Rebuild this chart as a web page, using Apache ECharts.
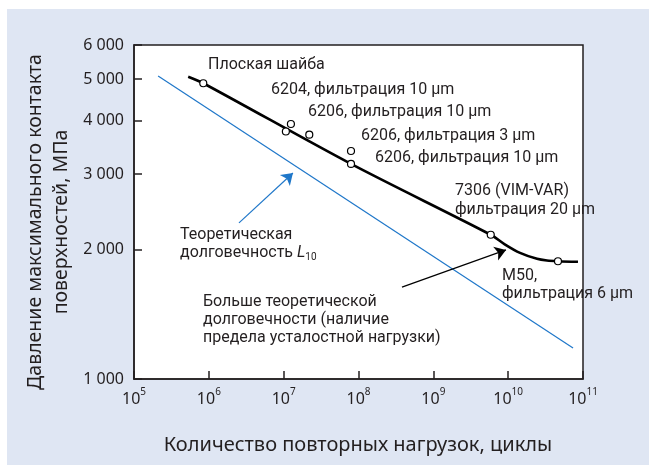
<!DOCTYPE html>
<html>
<head>
<meta charset="utf-8">
<script src="https://cdn.jsdelivr.net/npm/echarts@6/dist/echarts.min.js"></script>
<style>
  html, body { margin: 0; padding: 0; background: #ffffff; }
  #chart { width: 649px; height: 465px; }
</style>
</head>
<body>
<div id="chart"></div>
<script>
// Экспериментальная кривая: число циклов и контактное давление, МПа
const curveCycles   = [5.3e5, 8.43e5, 7.94e7, 5.85e9, 9.0e9, 1.44e10, 2.43e10, 3.3e10, 4.63e10, 8.57e10];
const curvePressure = [5060, 4887, 3170, 2168, 2060, 1967, 1905, 1888, 1881, 1875];

// Результаты испытаний подшипников (кружки)
const testCycles   = [8.43e5, 1.25e7, 1.07e7, 2.2e7, 7.94e7, 7.94e7, 5.85e9, 4.63e10];
const testPressure = [4887, 3927, 3772, 3708, 3398, 3170, 2168, 1881];

// Теоретическая долговечность L10
const theoryCycles   = [2.1e5, 7.36e10];
const theoryPressure = [5080, 1181];

// Выноски-стрелки: [начало, конец]
const arrowTheory = [[2.53e6, 2310], [1.33e7, 3019]];
const arrowLimit  = [[3.81e8, 1637], [9.35e9, 1999]];

// Деления осей
const xTickValues = [1e5, 1e6, 1e7, 1e8, 1e9, 1e10, 1e11];
const xTickPowers = ['5', '6', '7', '8', '9', '10', '11'];
const yTickValues = [1000, 2000, 3000, 4000, 5000, 6000];
const yTickLabels = ['1 000', '2 000', '3 000', '4 000', '5 000', '6 000'];

const ink = '#231f20';
const blue = '#1f77c9';
const labelFont = '"Noto Sans", sans-serif';
const noteFont = 'Roboto, sans-serif';
const tickLength = 8;

// Поле графика
const plot = { left: 134, top: 45, right: 66, bottom: 86 };
const plotWidth = 649 - plot.left - plot.right;
const plotHeight = 465 - plot.top - plot.bottom;

const xMin = xTickValues[0], xMax = xTickValues[xTickValues.length - 1];
const yMin = yTickValues[0], yMax = yTickValues[yTickValues.length - 1];

// Длина засечки в единицах логарифмических шкал
const xTickFactor = Math.pow(xMax / xMin, tickLength / plotWidth);
const yTickFactor = Math.pow(yMax / yMin, tickLength / plotHeight);

const tickSegments = []
  .concat(xTickValues.map(v => ({ coords: [[v, yMin], [v, yMin * yTickFactor]] })))
  .concat(yTickValues.map(v => ({ coords: [[xMin, v], [xMin * xTickFactor, v]] })));

const chart = echarts.init(document.getElementById('chart'), null, { renderer: 'canvas' });

function note(text, x, y, extra) {
  return {
    type: 'text', x: x, y: y, z: 50,
    style: Object.assign({
      text: text, fill: ink, font: '16px ' + noteFont,
      align: 'left', verticalAlign: 'middle', lineHeight: 18
    }, extra || {})
  };
}

chart.setOption({
  animation: false,
  backgroundColor: '#ffffff',
  grid: {
    left: plot.left, top: plot.top, right: plot.right, bottom: plot.bottom,
    show: true, backgroundColor: 'transparent', borderColor: ink, borderWidth: 1.5
  },
  xAxis: {
    type: 'log', logBase: 10, min: xMin, max: xMax,
    axisLine: { show: true, lineStyle: { color: ink, width: 1.5 } },
    axisTick: { show: false },
    splitLine: { show: false },
    axisLabel: {
      customValues: xTickValues,
      margin: 8,
      color: ink,
      formatter: function (v) {
        const i = xTickValues.indexOf(v);
        return '{b|10}{s|' + xTickPowers[i] + '}';
      },
      rich: {
        b: { fontSize: 16, fontFamily: labelFont, color: ink, verticalAlign: 'bottom', lineHeight: 20 },
        s: { fontSize: 10, fontFamily: labelFont, color: ink, verticalAlign: 'top', lineHeight: 20, padding: [0, 0, 6, 0] }
      }
    }
  },
  yAxis: {
    type: 'log', logBase: 10, min: yMin, max: yMax,
    axisLine: { show: true, lineStyle: { color: ink, width: 1.5 } },
    axisTick: { show: false },
    splitLine: { show: false },
    axisLabel: {
      customValues: yTickValues,
      margin: 10,
      color: ink,
      fontSize: 16,
      fontFamily: labelFont,
      formatter: function (v) {
        return yTickLabels[yTickValues.indexOf(v)];
      }
    }
  },
  graphic: [
    { type: 'rect', z: -10, shape: { x: 7, y: 9, width: 642, height: 456 }, style: { fill: '#dfe6f3' } },
    {
      type: 'rect', z: -9,
      shape: { x: plot.left, y: plot.top, width: plotWidth, height: plotHeight },
      style: { fill: '#ffffff' }
    },
    {
      type: 'text', z: 50, x: 358, y: 445,
      style: { text: 'Количество повторных нагрузок, циклы', fill: ink, font: '20px ' + labelFont, align: 'center', verticalAlign: 'middle' }
    },
    {
      type: 'text', z: 50, x: 48, y: 222, rotation: Math.PI / 2,
      style: { text: 'Давление максимального контакта\nповерхностей, МПа', fill: ink, font: '19.5px ' + labelFont, align: 'center', verticalAlign: 'middle', lineHeight: 26 }
    },
    note('Плоская шайба', 208, 65),
    note('6204, фильтрация 10 μm', 271, 90),
    note('6206, фильтрация 10 μm', 308, 112),
    note('6206, фильтрация 3 μm', 361, 136),
    note('6206, фильтрация 10 μm', 375, 158),
    note('7306 (VIM-VAR)\nфильтрация 20 μm', 455, 200, { lineHeight: 19 }),
    note('M50,\nфильтрация 6 μm', 502, 285),
    {
      type: 'text', z: 50, x: 180, y: 244,
      style: {
        text: 'Теоретическая\nдолговечность {i|L}{sub|10}',
        fill: ink, font: '16px ' + noteFont, align: 'left', verticalAlign: 'middle', lineHeight: 18,
        rich: {
          i: { fontStyle: 'italic', fontSize: 16, fontFamily: noteFont, fill: ink, lineHeight: 18 },
          sub: { fontSize: 10, fontFamily: noteFont, fill: ink, verticalAlign: 'bottom', lineHeight: 18, padding: [6, 0, 0, 0] }
        }
      }
    },
    note('Больше теоретической\nдолговечности (наличие\nпредела усталостной нагрузки)', 203, 320)
  ],
  series: [
    {
      name: 'L10', type: 'line', z: 2,
      data: theoryCycles.map((c, i) => [c, theoryPressure[i]]),
      symbol: 'none',
      lineStyle: { color: blue, width: 1.2 }
    },
    {
      name: 'Испытания', type: 'line', z: 3,
      data: curveCycles.map((c, i) => [c, curvePressure[i]]),
      symbol: 'none', smooth: 0.3,
      lineStyle: { color: '#000000', width: 2.6 }
    },
    {
      name: 'Точки', type: 'scatter', z: 4,
      data: testCycles.map((c, i) => [c, testPressure[i]]),
      symbol: 'circle', symbolSize: 7,
      itemStyle: { color: '#ffffff', borderColor: '#000000', borderWidth: 1.2, opacity: 1 }
    },
    {
      name: 'Стрелки', type: 'lines', coordinateSystem: 'cartesian2d', z: 5,
      symbol: ['none', 'arrow'], symbolSize: 11,
      data: [
        { coords: arrowTheory, lineStyle: { color: blue, width: 1.2 } },
        { coords: arrowLimit, lineStyle: { color: '#000000', width: 1.2 } }
      ],
      lineStyle: { opacity: 1, curveness: 0 }
    },
    {
      // засечки делений внутрь поля
      name: 'Засечки', type: 'lines', coordinateSystem: 'cartesian2d', z: 6,
      clip: false, silent: true, symbol: 'none',
      data: tickSegments,
      lineStyle: { color: ink, width: 1.5, opacity: 1, curveness: 0 }
    }
  ]
});
</script>
</body>
</html>
